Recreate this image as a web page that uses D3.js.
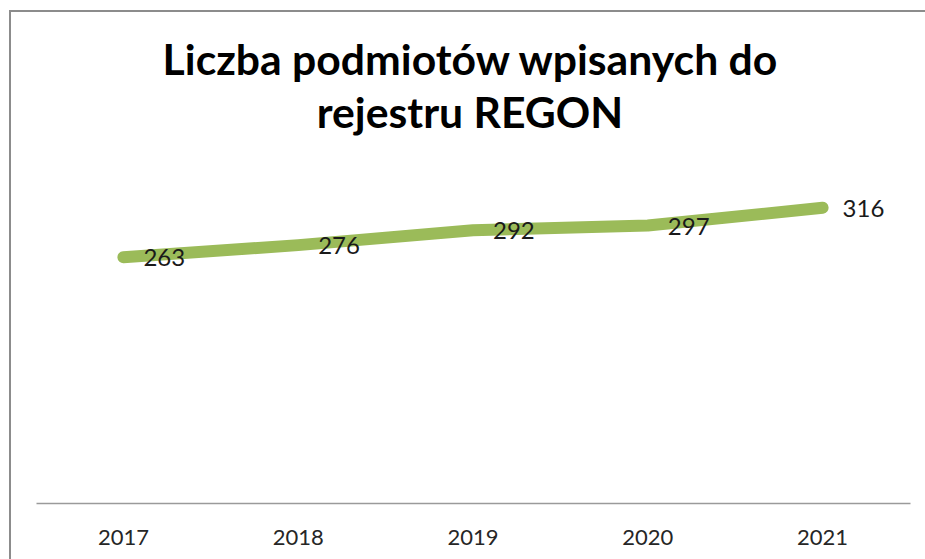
<!DOCTYPE html>
<html>
<head>
<meta charset="utf-8">
<script src="https://cdn.jsdelivr.net/npm/d3@7"></script>
<style>
  html, body { margin: 0; padding: 0; background: #fff; }
  svg { display: block; }
</style>
</head>
<body>
<svg id="chart" width="925" height="559"></svg>
<script>
const categories = ["2017", "2018", "2019", "2020", "2021"];
const values = [263, 276, 292, 297, 316];
const titleLines = ["Liczba podmiotów wpisanych do", "rejestru REGON"];

const svg = d3.select("#chart");

// chart frame (right/bottom edges fall outside the picture)
svg.append("rect")
  .attr("x", 10).attr("y", 11)
  .attr("width", 940).attr("height", 580)
  .attr("fill", "#fff")
  .attr("stroke", "#8c8c8c")
  .attr("stroke-width", 2);

const x = d3.scaleBand().domain(categories).range([36, 910]);
const y = d3.scaleLinear().domain([0, 350]).range([503, 176]);

// title
const title = svg.append("text")
  .attr("text-anchor", "middle")
  .attr("font-family", "Lato, 'Open Sans', sans-serif")
  .attr("font-weight", "bold")
  .attr("font-size", 42.7)
  .attr("fill", "#000");
title.selectAll("tspan").data(titleLines).join("tspan")
  .attr("x", 470)
  .attr("y", (d, i) => 75 + i * 53)
  .text(d => d);

// x axis
const xAxis = d3.axisBottom(x).tickSize(0).tickPadding(0);
const gx = svg.append("g").attr("transform", "translate(0,503)").call(xAxis);
gx.select(".domain").attr("stroke", "#9a9a9a").attr("stroke-width", 1.5);
gx.selectAll("text")
  .attr("y", 42)
  .attr("dy", null)
  .attr("font-family", "Lato, 'Open Sans', sans-serif")
  .attr("font-size", 22)
  .attr("fill", "#262626");

// line
const line = d3.line()
  .x((d, i) => x(categories[i]) + x.bandwidth() / 2)
  .y(d => y(d));

svg.append("path")
  .datum(values)
  .attr("d", line)
  .attr("fill", "none")
  .attr("stroke", "#9bbb59")
  .attr("stroke-width", 12)
  .attr("stroke-linecap", "round")
  .attr("stroke-linejoin", "round");

// data labels
svg.append("g").selectAll("text").data(values).join("text")
  .attr("x", (d, i) => x(categories[i]) + x.bandwidth() / 2 + 20)
  .attr("y", d => y(d) + 9)
  .attr("font-family", "Lato, 'Open Sans', sans-serif")
  .attr("font-size", 24)
  .attr("fill", "#1a1a1a")
  .text(d => d);
</script>
</body>
</html>
